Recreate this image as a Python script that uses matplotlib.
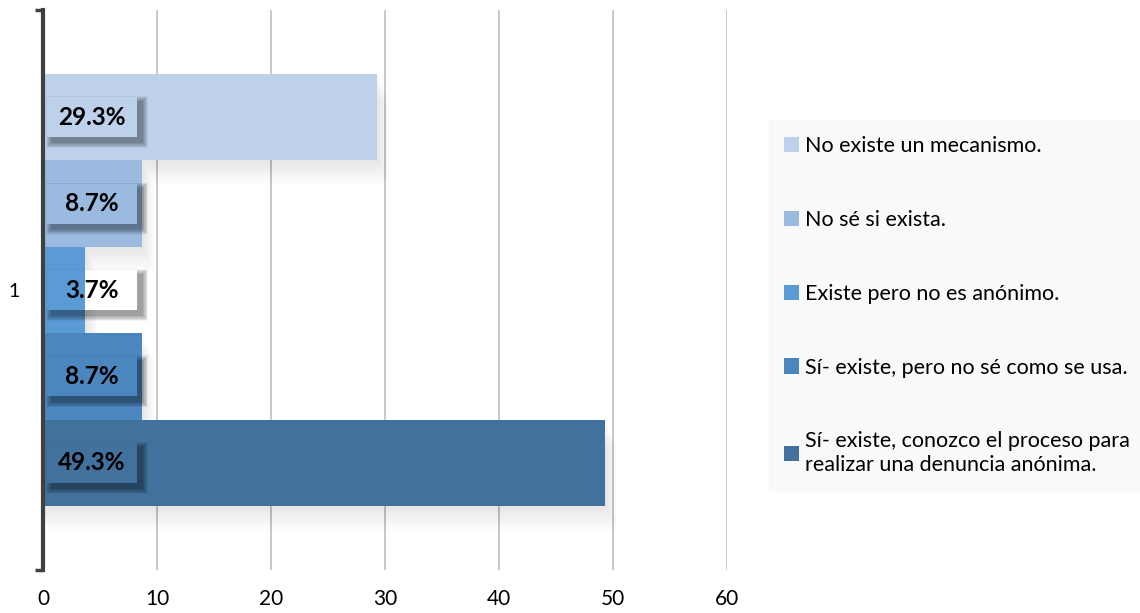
import matplotlib.pyplot as plt
from matplotlib.patches import Rectangle

# survey answers, listed bottom bar first
answers = [
    "Sí- existe, conozco el proceso para\nrealizar una denuncia anónima.",
    "Sí- existe, pero no sé como se usa.",
    "Existe pero no es anónimo.",
    "No sé si exista.",
    "No existe un mecanismo.",
]
percent = [49.3, 8.7, 3.7, 8.7, 29.3]
colors = ["#41719C", "#4C86BE", "#5B9BD5", "#9ABAE0", "#BDD1EA"]
xticks = [0, 10, 20, 30, 40, 50, 60]

plt.rcParams['font.family'] = ['Lato', 'DejaVu Sans']

fig = plt.figure(figsize=(11.4, 6.13), dpi=100)
ax = fig.add_axes([43 / 1140, 43 / 613, 684 / 1140, 560 / 613])
ax.set_xlim(0, 60)
ax.set_ylim(0.5, 1.5)

px_x = 60 / 684   # data units per pixel
px_y = 1.0 / 560

group = 0.772
h = group / len(percent)
y0 = 1 - group / 2

for i, (v, c, lab) in enumerate(zip(percent, colors, answers)):
    yb = y0 + i * h
    # soft shadow under the bar
    for k in range(8):
        s = (k + 1) * 1.5
        ax.add_patch(Rectangle((0, yb - s * px_y * 2), v + s * px_x, h,
                               facecolor="black", alpha=0.01, lw=0, zorder=1))
    ax.barh(yb + h / 2, v, height=h, color=c, label=lab, zorder=2)

for i, v in enumerate(percent):
    yc = y0 + i * h + h / 2
    bx, bw = 0.35, 7.9
    bh = 40 * px_y
    # blurred drop shadow behind the label box
    for k in range(10):
        g = (10 - k) * 0.6
        ax.add_patch(Rectangle((bx + 5 * px_x - g * px_x, yc - bh / 2 - 5 * px_y - g * px_y),
                               bw + 2 * g * px_x, bh + 2 * g * px_y,
                               facecolor="black", alpha=0.045, lw=0, zorder=3))
    # box fill shows whatever lies beneath it
    ax.add_patch(Rectangle((bx, yc - bh / 2), min(bw, v - bx), bh,
                           facecolor=colors[i], lw=0, zorder=4))
    if v < bx + bw:
        ax.add_patch(Rectangle((v, yc - bh / 2), bx + bw - v, bh,
                               facecolor="white", lw=0, zorder=4))
    ax.text(bx + bw / 2, yc, f"{v}%", ha="center", va="center",
            fontsize=17.5, fontweight="bold", color="black", zorder=5)

ax.set_xticks(xticks)
ax.set_xticklabels([str(t) for t in xticks], fontsize=15)
ax.xaxis.grid(True, color="#BFBFBF", lw=1.2, zorder=0)
ax.set_axisbelow(True)
ax.tick_params(axis="x", length=0, pad=14)
ax.set_yticks([1])
ax.set_yticklabels(["1"], fontsize=14)
ax.set_yticks([0.5, 1.5], minor=True)
ax.tick_params(axis="y", which="minor", length=6, width=2.5, color="#404040")
ax.tick_params(axis="y", which="major", length=0, pad=17)
for side in ["top", "right", "bottom"]:
    ax.spines[side].set_visible(False)
ax.spines["left"].set_color("#404040")
ax.spines["left"].set_linewidth(3)

handles, labels = ax.get_legend_handles_labels()
leg = fig.legend(handles[::-1], labels[::-1], loc="upper left",
                 bbox_to_anchor=(769 / 1140, 1 - 121 / 613),
                 fontsize=15.5, frameon=True, fancybox=False,
                 handlelength=0.7, handleheight=0.7, handletextpad=0.25,
                 labelspacing=2.5, borderpad=0.7, borderaxespad=0)
leg.get_frame().set_facecolor("#F8F8F8")
leg.get_frame().set_edgecolor("#F8F8F8")

fig.savefig("out.png", dpi=100)
